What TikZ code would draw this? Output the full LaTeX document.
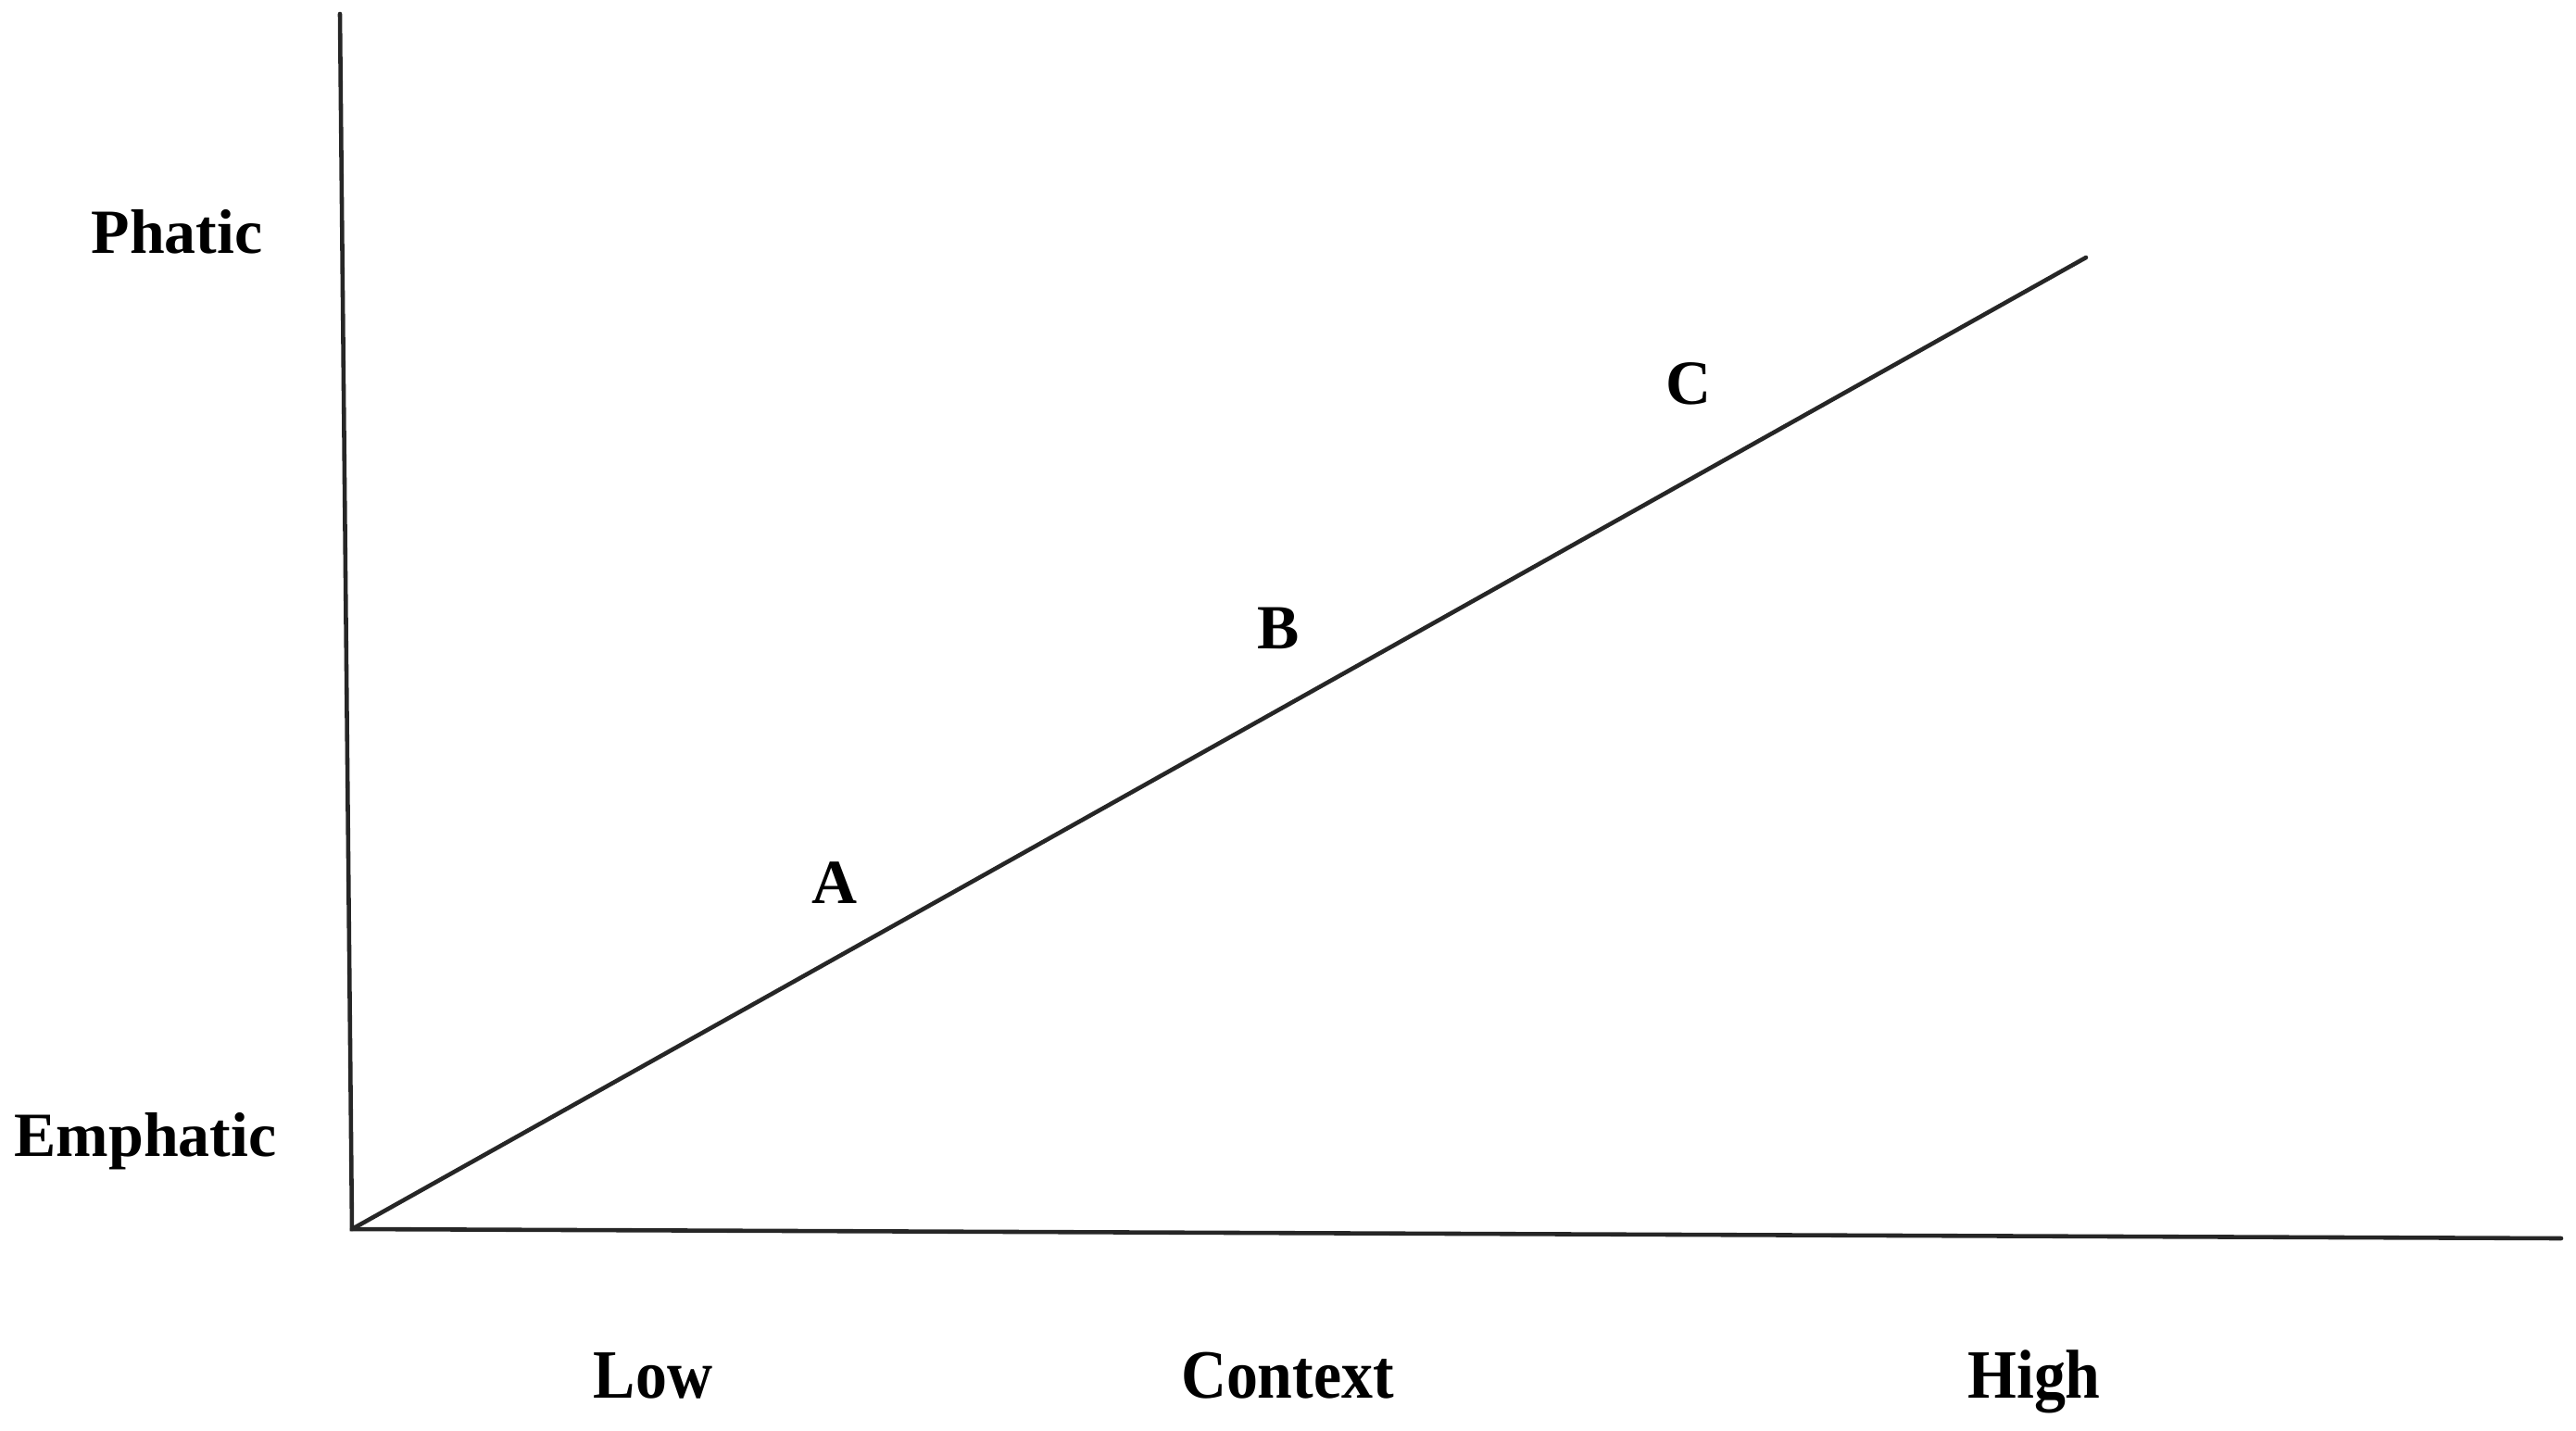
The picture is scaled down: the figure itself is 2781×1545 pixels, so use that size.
\documentclass[tikz,border=0pt]{standalone}
\usepackage{fontspec}
\setmainfont{Liberation Serif}
\usetikzlibrary{positioning}

\begin{document}
\begin{tikzpicture}[x=0.01cm, y=-0.01cm, font=\fontsize{19.3}{23}\selectfont\bfseries]
    \tikzset{axis/.style={line width=1.3pt, black!85, line cap=round},
             lab/.style={anchor=base, inner sep=0pt},
             ticklab/.style={lab, yscale=1.1}}
    \useasboundingbox (0,0) rectangle (2781,1545);

    \coordinate (top) at (367,15);
    \coordinate (origin) at (380,1327);
    \coordinate (right) at (2765,1337);
    \coordinate (end) at (2252,278);

    \draw[axis] (top) -- (origin) -- (right);
    \draw[axis] (origin) -- (end);

    \node[lab] (phatic) at (191,273) {Phatic};
    \node[lab] (emphatic) at (157,1248) {Emphatic};

    \node[ticklab] (low) at (705,1509) {Low};
    \node[ticklab] (context) at (1390,1509) {Context};
    \node[ticklab] (high) at (2196,1509) {High};

    \node[lab] (a) at (901,975) {A};
    \node[lab] (b) at (1380,700) {B};
    \node[lab] (c) at (1823,436) {C};
\end{tikzpicture}
\end{document}
